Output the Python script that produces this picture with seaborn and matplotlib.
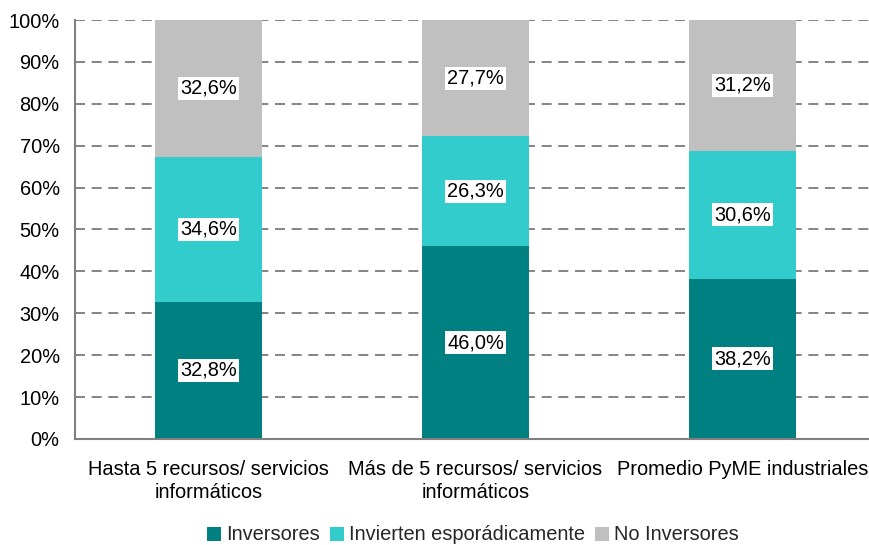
import matplotlib
matplotlib.use("Agg")
import matplotlib.pyplot as plt
import seaborn as sns
import pandas as pd
import numpy as np
from matplotlib.patches import Patch
from matplotlib.ticker import FixedLocator

categories = ["Hasta 5 recursos/ servicios\ninformáticos",
              "Más de 5 recursos/ servicios\ninformáticos",
              "Promedio PyME industriales"]
inversores = [32.8, 46.0, 38.2]
esporadicos = [34.6, 26.3, 30.6]
no_inversores = [32.6, 27.7, 31.2]
series_names = ["Inversores", "Invierten esporádicamente", "No Inversores"]
colors = ["#008080", "#33CCCC", "#C0C0C0"]

sns.set_theme(style="white")
plt.rcParams['font.family'] = ['Liberation Sans', 'DejaVu Sans']

df = pd.DataFrame({"cat": categories, "inv": inversores, "esp": esporadicos, "no": no_inversores})
df["c1"] = df["inv"]
df["c2"] = df["inv"] + df["esp"]
df["c3"] = df["inv"] + df["esp"] + df["no"]

fig = plt.figure(figsize=(8.69, 5.45), dpi=100)
ax = fig.add_axes([75/869, 1-439/545, 801/869, 419/545])

FS = 14.4
width = 0.4
for col, color in zip(["c3", "c2", "c1"], colors[::-1]):
    sns.barplot(data=df, x="cat", y=col, color=color, width=width, ax=ax,
                saturation=1, linewidth=0, zorder=2)

# labels
vals = [inversores, esporadicos, no_inversores]
for i in range(len(categories)):
    bottom = 0
    for s in vals:
        v = s[i]
        ax.text(i, bottom + v/2, f"{v:.1f}%".replace(".", ","), ha="center", va="center",
                fontsize=FS, color="black", zorder=5,
                bbox=dict(facecolor="white", edgecolor="none", pad=1.5))
        bottom += v

ax.set_xlim(-0.5, 2.5)
ax.set_ylim(0, 100)
ax.set_yticks(np.arange(0, 101, 10))
ax.set_yticklabels([f"{t}%" for t in range(0, 101, 10)], fontsize=FS, color="black")
ax.set_xlabel("")
ax.set_ylabel("")
ax.yaxis.grid(True, linestyle=(0, (6, 4)), color="#707070", linewidth=1.2, zorder=0)
ax.xaxis.grid(False)
ax.set_axisbelow(True)
ax.tick_params(axis="y", length=0, pad=11)
ax.tick_params(axis="x", which="major", length=0, pad=15, labelsize=FS, labelcolor="black")
ax.xaxis.set_minor_locator(FixedLocator([-0.5, 0.5, 1.5, 2.5]))
ax.tick_params(axis="x", which="minor", length=6, width=1.2, color="#808080", direction="out")
for lbl in ax.get_xticklabels():
    lbl.set_linespacing(1.3)

for sp in ["top", "right"]:
    ax.spines[sp].set_visible(False)
for sp in ["left", "bottom"]:
    ax.spines[sp].set_color("#808080")
    ax.spines[sp].set_linewidth(1.5)

handles = [Patch(facecolor=c, edgecolor="none") for c in colors]
fig.legend(handles, series_names, loc="center", bbox_to_anchor=(473/869, 1-535/545),
           ncol=3, frameon=False, fontsize=FS, handlelength=0.7, handleheight=0.7,
           handletextpad=0.25, columnspacing=0.5)

fig.savefig("out.png", dpi=100)
